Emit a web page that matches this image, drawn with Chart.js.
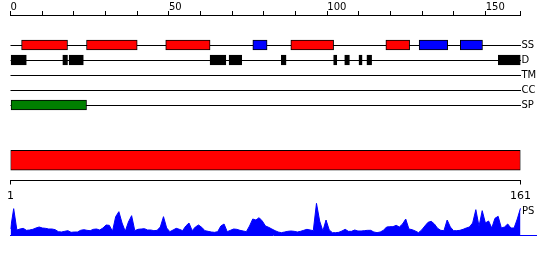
<!DOCTYPE html>
<html>
<head>
<meta charset="utf-8">
<script src="https://cdn.jsdelivr.net/npm/chart.js@4.4.1/dist/chart.umd.min.js"></script>
<style>
  body { margin: 0; background: #fff; }
  #wrap { position: relative; width: 550px; height: 260px; }
  canvas { position: absolute; left: 0; }
</style>
</head>
<body>
<div id="wrap">
  <canvas id="tracks" width="550" height="120" style="top:0px"></canvas>
  <canvas id="seq" width="550" height="80" style="top:130px"></canvas>
  <canvas id="ps" width="550" height="45" style="top:195px"></canvas>
</div>
<script>
const seqLength = 161;
const trackNames = ["SS", "D", "TM", "CC", "SP"];
const helixRanges = [[3.5, 18], [24, 40], [49, 63], [88.5, 102], [118.5, 126]];
const strandRanges = [[76.5, 81], [129, 138], [142, 149]];
const disorderRanges = [[0, 5], [16.5, 18], [18.5, 23], [63, 68], [69, 73], [85.5, 87],
  [102, 103], [105.5, 107], [110, 111], [112.5, 114], [154, 161]];
const signalRanges = [[0, 24]];
const topTicks = [0, 10, 20, 30, 40, 50, 60, 70, 80, 90, 100, 110, 120, 130, 140, 150, 161];
const topTickLabels = [0, 50, 100, 150];
const bottomTicks = [1, 161];
const psScores = [
  0.18, 0.79, 0.15, 0.18, 0.20, 0.14, 0.15, 0.17, 0.21, 0.24,
  0.21, 0.20, 0.18, 0.18, 0.16, 0.10, 0.09, 0.11, 0.13, 0.08,
  0.09, 0.09, 0.14, 0.16, 0.14, 0.13, 0.17, 0.18, 0.15, 0.21,
  0.30, 0.29, 0.11, 0.55, 0.70, 0.36, 0.11, 0.39, 0.58, 0.13,
  0.17, 0.18, 0.19, 0.15, 0.15, 0.13, 0.14, 0.24, 0.55, 0.21,
  0.10, 0.15, 0.20, 0.17, 0.13, 0.27, 0.36, 0.13, 0.24, 0.30,
  0.23, 0.13, 0.11, 0.09, 0.08, 0.10, 0.27, 0.33, 0.10, 0.14,
  0.18, 0.17, 0.14, 0.12, 0.10, 0.27, 0.48, 0.45, 0.52, 0.42,
  0.27, 0.23, 0.18, 0.13, 0.09, 0.07, 0.09, 0.11, 0.12, 0.11,
  0.09, 0.11, 0.14, 0.17, 0.15, 0.13, 0.95, 0.42, 0.12, 0.45,
  0.15, 0.07, 0.07, 0.08, 0.12, 0.17, 0.11, 0.11, 0.15, 0.12,
  0.12, 0.13, 0.14, 0.14, 0.09, 0.07, 0.09, 0.14, 0.24, 0.25,
  0.25, 0.29, 0.24, 0.33, 0.48, 0.18, 0.16, 0.12, 0.07, 0.15,
  0.27, 0.38, 0.41, 0.33, 0.20, 0.14, 0.13, 0.45, 0.24, 0.13,
  0.13, 0.14, 0.17, 0.21, 0.24, 0.36, 0.76, 0.26, 0.73, 0.36,
  0.42, 0.21, 0.50, 0.56, 0.21, 0.24, 0.33, 0.21, 0.21, 0.48,
  0.80
];

Chart.defaults.font.family = "'DejaVu Sans', sans-serif";
Chart.defaults.color = "#000";

// row value on the track axis: SS -> 2, D -> 3, ...
function rowOf(name) {
  return trackNames.indexOf(name) + 2;
}

function boxes(ranges, name) {
  return ranges.map(r => ({ x: r, y: rowOf(name) }));
}

function boxSet(ranges, name, color) {
  return {
    data: boxes(ranges, name),
    backgroundColor: color,
    borderColor: "#000",
    borderWidth: 1,
    borderSkipped: false,
    barThickness: 10,
    grouped: false,
  };
}

new Chart(document.getElementById("tracks"), {
  type: "bar",
  data: {
    datasets: [
      boxSet(helixRanges, "SS", "#ff0000"),
      boxSet(strandRanges, "SS", "#0000ff"),
      boxSet(disorderRanges, "D", "#000000"),
      boxSet(signalRanges, "SP", "#008000"),
    ],
  },
  options: {
    indexAxis: "y",
    responsive: false,
    animation: false,
    layout: { padding: { left: 10.5, right: 0, top: 0, bottom: 0 } },
    plugins: { legend: { display: false }, tooltip: { enabled: false } },
    scales: {
      x: {
        type: "linear",
        position: "top",
        min: 0,
        max: seqLength,
        afterBuildTicks: (scale) => {
          scale.ticks = topTicks.map(v => ({ value: v }));
        },
        afterFit: (scale) => { scale.height = 15; },
        grid: { drawOnChartArea: false, drawTicks: true, tickLength: 4, color: "#000" },
        border: { display: true, color: "#000", width: 1 },
        ticks: {
          autoSkip: false,
          maxRotation: 0,
          align: "start",
          padding: -2,
          font: { size: 10 },
          callback: (value) => topTickLabels.includes(value) ? String(value) : "",
        },
      },
      y: {
        type: "linear",
        position: "right",
        reverse: true,
        min: 0,
        max: 7,
        offset: false,
        afterBuildTicks: (scale) => {
          scale.ticks = trackNames.map(n => ({ value: rowOf(n) }));
        },
        afterFit: (scale) => {
          scale.width = 29.5;
          scale.paddingTop = 0;
          scale.paddingBottom = 0;
        },
        grid: { offset: false, drawTicks: false, color: "#000", lineWidth: 1 },
        border: { display: false },
        ticks: {
          padding: 1,
          font: { size: 10 },
          callback: (value) => trackNames[value - 2],
        },
      },
    },
  },
});

new Chart(document.getElementById("seq"), {
  type: "bar",
  data: {
    labels: ["seq"],
    datasets: [{
      data: [[1, seqLength]],
      backgroundColor: "#ff0000",
      borderColor: "#000",
      borderWidth: 1,
      borderSkipped: false,
      barThickness: 20,
    }],
  },
  options: {
    indexAxis: "y",
    responsive: false,
    animation: false,
    layout: { padding: { left: 10.5, right: 29.5, top: 10, bottom: 0 } },
    plugins: { legend: { display: false }, tooltip: { enabled: false } },
    scales: {
      x: {
        type: "linear",
        min: 1,
        max: seqLength,
        afterBuildTicks: (scale) => {
          scale.ticks = bottomTicks.map(v => ({ value: v }));
        },
        afterFit: (scale) => { scale.height = 29.5; },
        grid: { drawOnChartArea: false, drawTicks: true, tickLength: 4, color: "#000" },
        border: { display: true, color: "#000", width: 1 },
        ticks: { autoSkip: false, maxRotation: 0, padding: 5, font: { size: 11 } },
      },
      y: { display: false },
    },
  },
});

const psLabel = {
  id: "psLabel",
  afterDraw(chart) {
    const { ctx, scales: { x, y } } = chart;
    ctx.save();
    ctx.font = "10px 'DejaVu Sans'";
    ctx.fillStyle = "#000";
    ctx.textBaseline = "middle";
    ctx.fillText("PS", x.getPixelForValue(seqLength) + 1.5, y.getPixelForValue(0.72));
    ctx.restore();
  },
};

new Chart(document.getElementById("ps"), {
  type: "line",
  data: {
    datasets: [{
      data: psScores.map((v, i) => ({ x: i + 1, y: v })),
      borderColor: "#0000ff",
      backgroundColor: "#0000ff",
      borderWidth: 1,
      pointRadius: 0,
      tension: 0,
      fill: "origin",
    }],
  },
  options: {
    responsive: false,
    animation: false,
    layout: { padding: { left: 10.5, right: 13.6, top: 0, bottom: 5 } },
    plugins: { legend: { display: false }, tooltip: { enabled: false } },
    scales: {
      x: {
        type: "linear",
        min: 1,
        max: 166,
        afterFit: (scale) => { scale.height = 0; },
        grid: { display: false },
        border: { display: true, color: "#0000ff", width: 1 },
        ticks: { display: false },
      },
      y: { display: false, min: 0, max: 1.2 },
    },
  },
  plugins: [psLabel],
});
</script>
</body>
</html>
